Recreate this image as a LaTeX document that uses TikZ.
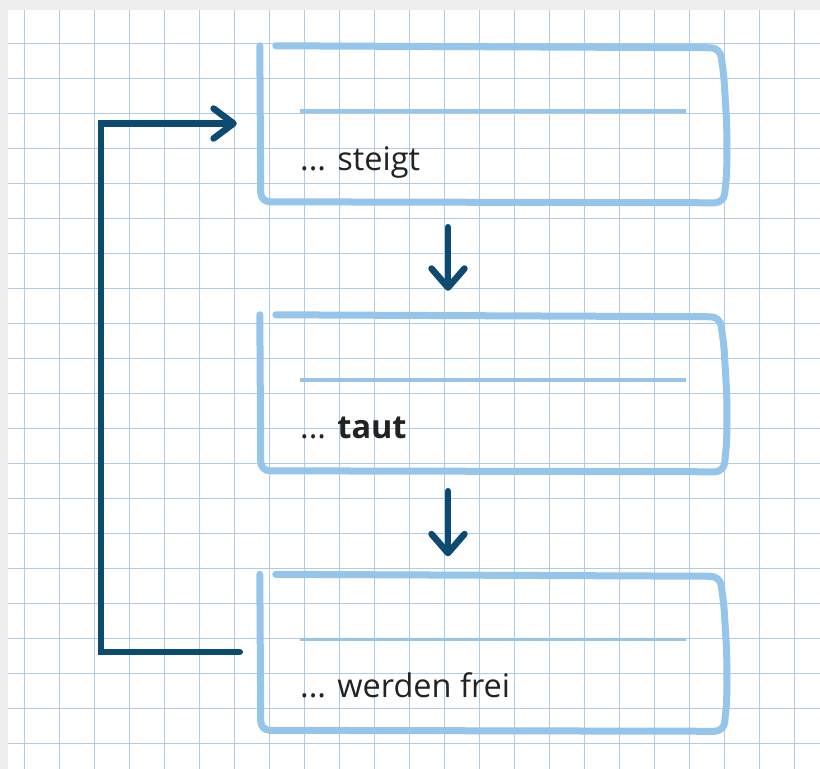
\documentclass[tikz,border=0pt]{standalone}
\usepackage{fontspec}
\setmainfont{Open Sans}
\usetikzlibrary{arrows.meta}
\definecolor{gridblue}{HTML}{AFCBE6}
\definecolor{boxblue}{HTML}{95C5EB}
\definecolor{darkblue}{HTML}{0C4B6F}
\definecolor{txt}{HTML}{222222}
\definecolor{papershade}{HTML}{EEEEEE}
\tikzset{
  gridline/.style={draw=gridblue,line width=0.9pt},
  boxarea/.style={draw=none,inner sep=0pt,minimum width=467pt,minimum height=157pt},
  boxline/.style={draw=boxblue,line width=7pt,line cap=round,line join=round,rounded corners=9pt},
  innerline/.style={draw=boxblue,line width=3.6pt},
  label/.style={anchor=base west,inner sep=0pt,text=txt,font=\fontsize{32.5}{38}\selectfont},
  darr/.style={draw=darkblue,line width=6.5pt,line cap=round,line join=round,
    -{Straight Barb[length=19pt,width=33pt,line cap=round,line join=round]}},
  farr/.style={draw=darkblue,line width=6.5pt,line cap=round,line join=miter,
    -{Straight Barb[length=20pt,width=30pt,line cap=round,line join=round]}},
}
\newcommand{\sketchbox}[1]{%
  \begin{scope}[shift={(#1.north west)}]
    \draw[boxline] (0,1) -- (1,157) -- (464,158) -- (467,128) -- (467,80) -- (464,30) -- (460,3) -- (16,1);
    \draw[innerline] (40,66) -- (426,66);
  \end{scope}}
\begin{document}
\begin{tikzpicture}[x=1pt,y=-1pt]
\useasboundingbox (0,0) rectangle (820,769);
\fill[papershade] (0,0) rectangle (820,769);
\fill[white] (8,10) rectangle (820,769);
\foreach \x in {24,59,...,794} \draw[gridline] (\x,10) -- (\x,769);
\foreach \y in {43.3,78.3,...,743.3} \draw[gridline] (8,\y) -- (820,\y);

\node[boxarea] (b1) at (493.5,123.5) {};
\node[boxarea] (b2) at (493.5,392.5) {};
\node[boxarea] (b3) at (493.5,652) {};
\sketchbox{b1}
\sketchbox{b2}
\sketchbox{b3}

\node[label] (t1) at (300,170) {... steigt};
\node[label] (t2) at (300,438) {... \textbf{taut}};
\node[label] (t3) at (300,697) {... werden frei};

\draw[darr,shorten <=25pt,shorten >=23pt] ([xshift=-45.5pt]b1.south) -- ([xshift=-45.5pt]b2.north);
\draw[darr,shorten <=20pt,shorten >=17pt] ([xshift=-45.5pt]b2.south) -- ([xshift=-45.5pt]b3.north);
\draw[farr,shorten <=20pt,shorten >=23pt] (b3.west) -- ++(-159,0) |- (b1.west);
\end{tikzpicture}
\end{document}
